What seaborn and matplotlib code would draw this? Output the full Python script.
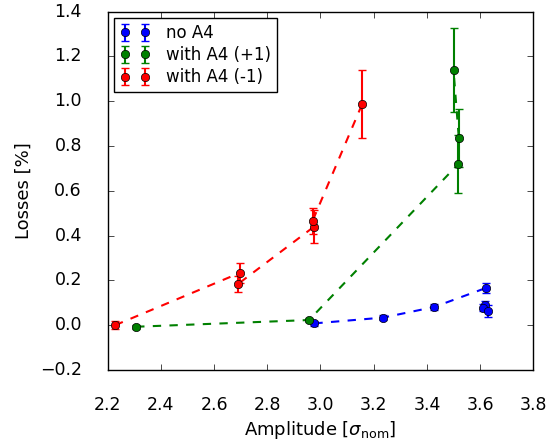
import matplotlib
matplotlib.use("Agg")
import matplotlib.pyplot as plt
import seaborn as sns
import pandas as pd

# Measured losses vs. amplitude for the three A4 settings
amp_no = [2.977, 3.236, 3.427, 3.624, 3.618, 3.610, 3.630]
loss_no = [0.008, 0.034, 0.081, 0.167, 0.092, 0.078, 0.063]
err_no = [0.010, 0.012, 0.014, 0.022, 0.017, 0.015, 0.025]
n_no_line = 4  # points joined by the dashed trend line

amp_p1 = [2.307, 2.957, 3.517, 3.520, 3.500]
loss_p1 = [-0.007, 0.023, 0.718, 0.835, 1.139]
err_p1 = [0.008, 0.008, 0.130, 0.130, 0.188]

amp_m1 = [2.228, 2.698, 2.689, 2.976, 2.970, 3.157]
loss_m1 = [0.000, 0.234, 0.183, 0.440, 0.465, 0.988]
err_m1 = [0.019, 0.045, 0.036, 0.072, 0.057, 0.152]

series = [
    ("no A4", amp_no, loss_no, err_no, n_no_line, "b"),
    ("with A4 (+1)", amp_p1, loss_p1, err_p1, len(amp_p1), "g"),
    ("with A4 (-1)", amp_m1, loss_m1, err_m1, len(amp_m1), "r"),
]

sns.set_style("ticks", {"xtick.direction": "in", "ytick.direction": "in"})
plt.style.use("classic")
plt.rcParams["font.family"] = ["DejaVu Sans"]
plt.rcParams["mathtext.fontset"] = "dejavusans"
plt.rcParams["lines.scale_dashes"] = False

fig = plt.figure(figsize=(5.48, 4.44), dpi=100)
ax = fig.add_axes([0.1965, 0.1667, 0.9732 - 0.1965, 0.974 - 0.1667])

for label, x, y, e, n_line, c in series:
    df = pd.DataFrame({"amp": x[:n_line], "loss": y[:n_line]})
    sns.lineplot(data=df, x="amp", y="loss", sort=False, estimator=None,
                 color=c, linestyle="--", linewidth=1.5, ax=ax, legend=False)
    ax.errorbar(x, y, yerr=e, fmt="o", color=c, ecolor=c, mec="k",
                markersize=6, elinewidth=1.5, capsize=3, capthick=1,
                label=label, zorder=3)

ax.set_xlim(2.2, 3.8)
ax.set_ylim(-0.2, 1.4)
ax.set_xticks([2.2, 2.4, 2.6, 2.8, 3.0, 3.2, 3.4, 3.6, 3.8])
ax.set_yticks([-0.2, 0.0, 0.2, 0.4, 0.6, 0.8, 1.0, 1.2, 1.4])
ax.set_xlabel(r"Amplitude [$\sigma_{\rm nom}$]", fontsize=13, labelpad=4)
ax.set_ylabel("Losses [%]", fontsize=13, labelpad=5)
ax.tick_params(labelsize=12.5, direction="in", top=True, right=True, pad=18.5)
ax.legend(loc="upper left", numpoints=2, fontsize=12, fancybox=False,
          framealpha=1, handlelength=1.8, borderpad=0.35, labelspacing=0.25,
          handletextpad=0.95, borderaxespad=0.4)

fig.savefig("out.png", dpi=100)
